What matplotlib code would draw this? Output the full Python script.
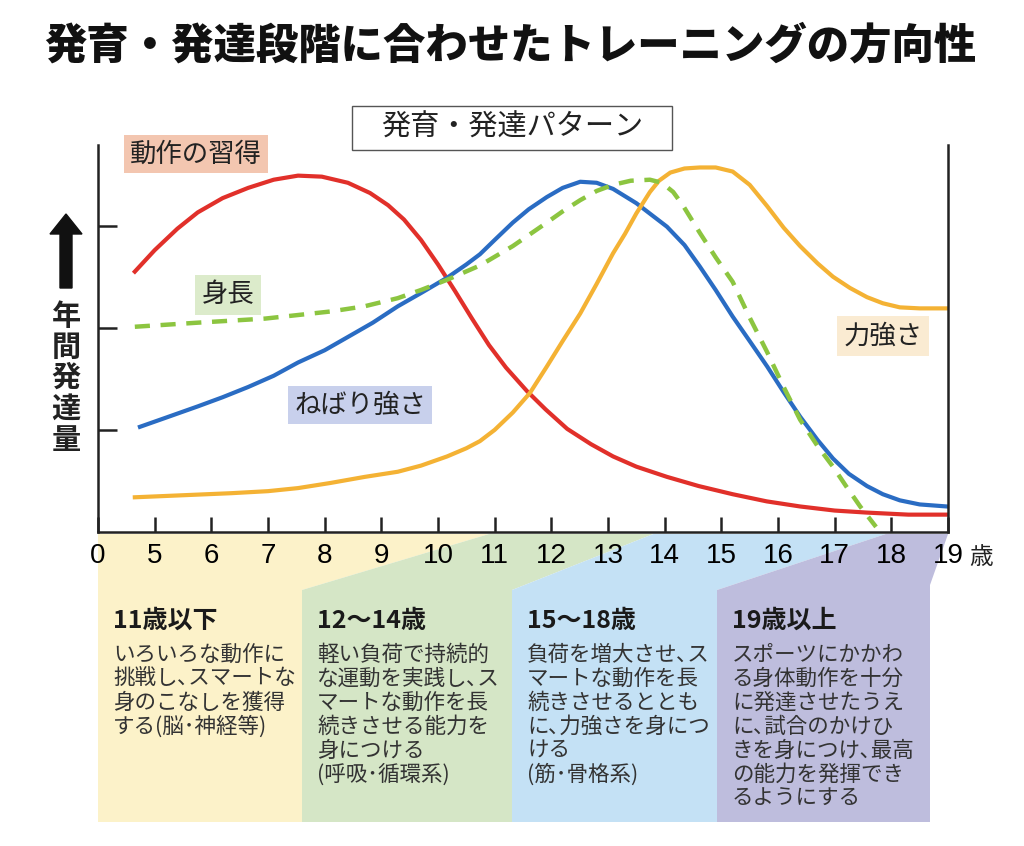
import numpy as np
import matplotlib.pyplot as plt
from matplotlib.patches import Polygon, Rectangle, FancyArrow
from matplotlib.transforms import IdentityTransform

plt.rcParams['font.family'] = ['Noto Sans CJK JP', 'DejaVu Sans']

W, H = 1024, 846

# x axis: "0" then 5..19 years (ages below 5 are squeezed into the first step)
tick_labels = ['0', '5', '6', '7', '8', '9', '10', '11', '12', '13',
               '14', '15', '16', '17', '18', '19']

# 動作の習得 (red)
motor_age = [4.65, 5.0, 5.4, 5.76, 6.2, 6.65, 7.1, 7.53, 7.95, 8.41, 8.8, 9.12,
             9.4, 9.7, 10.0, 10.3, 10.6, 10.9, 11.2, 11.57, 11.9, 12.28, 12.7,
             13.09, 13.5, 14.04, 14.6, 15.2, 15.8, 16.39, 17.0, 17.57, 18.3, 19.0]
motor_val = [2.55, 2.76, 2.97, 3.13, 3.27, 3.37, 3.45, 3.49, 3.48, 3.42, 3.32, 3.2,
             3.06, 2.86, 2.62, 2.36, 2.09, 1.83, 1.61, 1.38, 1.2, 1.01, 0.86,
             0.74, 0.64, 0.54, 0.45, 0.37, 0.3, 0.25, 0.21, 0.19, 0.17, 0.17]

# ねばり強さ (blue)
endur_age = [4.74, 5.2, 5.76, 6.2, 6.65, 7.1, 7.53, 8.0, 8.41, 8.85, 9.29, 9.7,
             10.16, 10.5, 10.74, 11.0, 11.32, 11.6, 11.92, 12.2, 12.51, 12.8,
             13.09, 13.5, 14.04, 14.35, 14.62, 14.9, 15.2, 15.5, 15.81, 16.1,
             16.39, 16.7, 16.97, 17.25, 17.57, 17.85, 18.15, 18.5, 18.98]
endur_val = [1.03, 1.12, 1.23, 1.32, 1.42, 1.53, 1.66, 1.78, 1.91, 2.05, 2.21, 2.34,
             2.49, 2.62, 2.72, 2.86, 3.03, 3.16, 3.28, 3.37, 3.43, 3.42,
             3.36, 3.22, 2.99, 2.81, 2.60, 2.37, 2.11, 1.87, 1.62, 1.37,
             1.13, 0.9, 0.72, 0.57, 0.45, 0.37, 0.31, 0.27, 0.25]

# 身長 (green, dashed)
height_age = [4.65, 5.76, 6.95, 8.11, 8.7, 9.29, 9.7, 10.16, 10.74, 11.32, 11.92,
              12.2, 12.51, 12.8, 13.09, 13.4, 13.74, 13.95, 14.15, 14.32, 14.62,
              14.9, 15.2, 15.5, 15.81, 16.1, 16.39, 16.7, 16.97, 17.2, 17.45, 17.73]
height_val = [2.01, 2.05, 2.09, 2.16, 2.21, 2.29, 2.37, 2.47, 2.61, 2.80, 3.03,
              3.14, 3.25, 3.34, 3.40, 3.44, 3.45, 3.42, 3.33, 3.20, 2.93,
              2.69, 2.45, 2.10, 1.76, 1.42, 1.10, 0.84, 0.64, 0.45, 0.25, 0.05]

# 力強さ (orange)
power_age = [4.65, 5.5, 6.35, 7.0, 7.53, 8.1, 8.71, 9.29, 9.7, 10.16, 10.5, 10.74,
             11.0, 11.32, 11.62, 11.92, 12.2, 12.51, 12.8, 13.09, 13.3, 13.5,
             13.74, 13.9, 14.1, 14.35, 14.62, 14.9, 15.2, 15.5, 15.81, 16.1,
             16.39, 16.7, 16.97, 17.27, 17.57, 17.85, 18.15, 18.5, 18.98]
power_val = [0.34, 0.36, 0.38, 0.40, 0.43, 0.48, 0.54, 0.59, 0.65, 0.74, 0.82, 0.89,
             1.00, 1.17, 1.36, 1.62, 1.87, 2.14, 2.43, 2.73, 2.92, 3.12,
             3.33, 3.44, 3.52, 3.56, 3.57, 3.57, 3.53, 3.40, 3.19, 2.98,
             2.80, 2.63, 2.50, 2.39, 2.30, 2.24, 2.20, 2.19, 2.19]

stage_titles = ['11歳以下', '12～14歳', '15～18歳', '19歳以上']
stage_texts = [
    ['いろいろな動作に', '挑戦し､スマートな', '身のこなしを獲得', 'する(脳･神経等)'],
    ['軽い負荷で持続的', 'な運動を実践し､ス', 'マートな動作を長', '続きさせる能力を',
     '身につける', '(呼吸･循環系)'],
    ['負荷を増大させ､ス', 'マートな動作を長', '続きさせるととも', 'に､力強さを身につ',
     'ける', '(筋･骨格系)'],
    ['スポーツにかかわ', 'る身体動作を十分', 'に発達させたうえ', 'に､試合のかけひ',
     'きを身につけ､最高', 'の能力を発揮でき', 'るようにする'],
]
stage_colors = ['#fcf2c9', '#d5e6c6', '#c4e1f5', '#bebddd']


def fx(px):
    return px / W


def fy(py):
    return 1 - py / H


fig = plt.figure(figsize=(W / 100, H / 100), dpi=100)
ax = fig.add_axes([fx(98), fy(532), fx(948) - fx(98), fy(145) - fy(532)])


def pos(ages):
    return np.asarray(ages) - 4


ax.plot(pos(motor_age), motor_val, color='#e1302a', lw=3, solid_joinstyle='round')
ax.plot(pos(endur_age), endur_val, color='#2a6cc3', lw=3, solid_joinstyle='round')
ax.plot(pos(power_age), power_val, color='#f4b234', lw=3, solid_joinstyle='round')
ax.plot(pos(height_age), height_val, color='#8cc540', lw=3.2,
        linestyle=(0, (3.4, 2.4)), dash_capstyle='butt')

ax.set_xlim(0, len(tick_labels) - 1)
ax.set_ylim(0, 3.79)
ax.set_xticks(np.arange(len(tick_labels)))
ax.set_xticklabels(tick_labels, fontfamily=['Liberation Sans'], fontsize=20)
ax.set_yticks([1, 2, 3])
ax.set_yticklabels([])
ax.tick_params(axis='x', direction='in', length=11, width=1.8, pad=8, color='#222')
ax.tick_params(axis='y', direction='in', length=14, width=1.8, color='#222')
ax.spines['top'].set_visible(False)
for s in ('left', 'right', 'bottom'):
    ax.spines[s].set_linewidth(1.8)
    ax.spines[s].set_color('#222')
fig.text(fx(981), fy(557), '歳', fontsize=17, ha='center', va='center', color='#222')

# series labels
lab = dict(fontsize=19, ha='center', va='center', color='#222')
fig.text(fx(196), fy(154), '動作の習得', bbox=dict(boxstyle='square,pad=0.22', fc='#f3c6b0', ec='none'), **lab)
fig.text(fx(228), fy(295), '身長', bbox=dict(boxstyle='square,pad=0.25', fc='#dcebcb', ec='none'), **lab)
fig.text(fx(360), fy(405), 'ねばり強さ', bbox=dict(boxstyle='square,pad=0.22', fc='#c8d0ec', ec='none'), **lab)
fig.text(fx(883), fy(336), '力強さ', bbox=dict(boxstyle='square,pad=0.25', fc='#faebd2', ec='none'), **lab)

# title and box label
fig.text(fx(510), fy(46), '発育・発達段階に合わせたトレーニングの方向性',
         fontsize=30.5, fontweight='heavy', ha='center', va='center', color='#111')
fig.add_artist(Rectangle((fx(352), fy(150)), fx(672) - fx(352), fy(106) - fy(150),
                         transform=fig.transFigure, fc='white', ec='#555', lw=1, zorder=3))
fig.text(fx(512), fy(128), '発育・発達パターン', fontsize=21, ha='center', va='center',
         color='#222', zorder=4)

# y label: arrow + vertical text
fig.add_artist(FancyArrow(66, H - 288, 0, 74, width=12, head_width=32, head_length=20,
                          length_includes_head=True, transform=IdentityTransform(),
                          color='#111'))
for i, ch in enumerate('年間発達量'):
    fig.text(fx(66), fy(316 + i * 31), ch, fontsize=21, fontweight='bold',
             ha='center', va='center', color='#222')

# stage panels below the axis
top, kink, bottom = 534, 590, 822
edge = [98 + p * 56.67 for p in (0, 6.9, 9.8, 13.9, 15)]
rect = [98, 302, 512, 717, 930]
for i in range(4):
    if i == 0:
        pts = [(edge[0], top), (edge[1], top), (rect[1], kink), (rect[1], bottom), (rect[0], bottom)]
    elif i == 3:
        pts = [(edge[3], top), (edge[4], top), (rect[4], 585), (rect[4], bottom),
               (rect[3], bottom), (rect[3], kink)]
    else:
        pts = [(edge[i], top), (edge[i + 1], top), (rect[i + 1], kink), (rect[i + 1], bottom),
               (rect[i], bottom), (rect[i], kink)]
    fig.add_artist(Polygon([(fx(x), fy(y)) for x, y in pts], closed=True,
                           transform=fig.transFigure, fc=stage_colors[i], ec='none', zorder=-1))
    x0 = rect[i] + 15
    fig.text(fx(x0), fy(621), stage_titles[i], fontsize=18, fontweight='bold',
             ha='left', va='center', color='#1a1a1a')
    for j, line in enumerate(stage_texts[i]):
        fig.text(fx(x0), fy(655 + j * 24), line, fontsize=15.5, ha='left', va='center',
                 color='#333')

fig.savefig('out.png', dpi=100, facecolor='white')
